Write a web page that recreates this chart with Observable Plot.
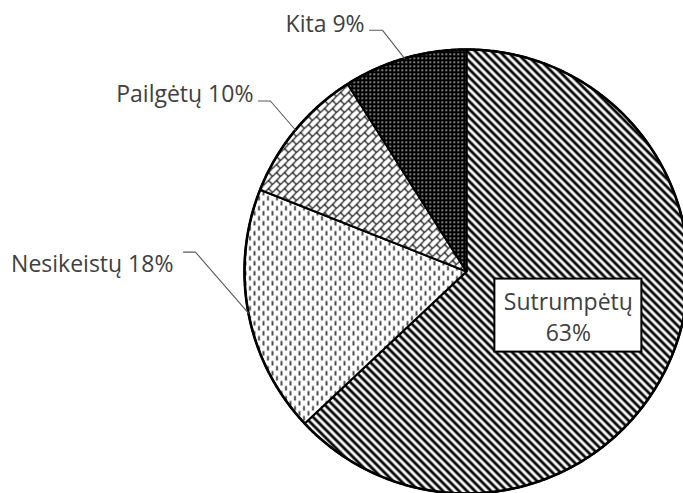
<!DOCTYPE html>
<html>
<head>
<meta charset="utf-8">
<script src="https://cdn.jsdelivr.net/npm/d3@7"></script>
<script src="https://cdn.jsdelivr.net/npm/@observablehq/plot@0.6"></script>
<style>
  html, body { margin: 0; padding: 0; background: #fff; }
  #chart svg { display: block; }
</style>
</head>
<body>
<div id="chart"></div>
<script>
// ---- data ----
const categories = ["Sutrumpėtų", "Nesikeistų", "Pailgėtų", "Kita"];
const values = [63, 18, 10, 9];

// ---- layout (pixels) ----
const W = 683, H = 493;
const CX = 466, CY = 271, R = 222;
const patternIds = ["pDiag", "pDash", "pBrick", "pDots"];
// outer label leader geometry: elbow offset from slice edge (px, y down), horizontal run, text gap, baseline offset
const outerLayout = {
  "Nesikeistų": {ex: -53, ey: -61, run: 12, gap: 10, base: 20},
  "Pailgėtų":   {ex: -25, ey: -29, run: 12, gap: 5,  base: 1},
  "Kita":       {ex: -22, ey: -28, run: 13, gap: 5,  base: 2}
};
const innerFrac = 0.5, boxW = 147, boxH = 73;
const fontFamily = "'Open Sans', sans-serif";
const fontSize = 23;
const textColor = "#404040";

// ---- geometry from data ----
const arcs = d3.pie().sort(null)(values);
const polar = (a, r) => ({x: r * Math.sin(a), y: r * Math.cos(a)});

const sliceMarks = arcs.map((a, i) => {
  const n = Math.max(2, Math.ceil((a.endAngle - a.startAngle) / (Math.PI / 360)));
  const pts = [{x: 0, y: 0}];
  for (let k = 0; k <= n; ++k) pts.push(polar(a.startAngle + (a.endAngle - a.startAngle) * k / n, R));
  pts.push({x: 0, y: 0});
  return Plot.line(pts, {x: "x", y: "y", fill: `url(#${patternIds[i]})`, stroke: "#000", strokeWidth: 2, strokeLinejoin: "miter"});
});

const circlePts = d3.range(0, 721).map(k => polar(k * Math.PI / 360, R));

const leaders = [], outerTexts = [];
arcs.forEach((a, i) => {
  const c = categories[i];
  const L = outerLayout[c];
  if (!L) return;
  const mid = (a.startAngle + a.endAngle) / 2;
  const e = polar(mid, R);
  const elbow = {x: e.x + L.ex, y: e.y - L.ey};
  const end = {x: elbow.x - L.run, y: elbow.y};
  leaders.push({z: c, ...e}, {z: c, ...elbow}, {z: c, ...end});
  outerTexts.push({x: end.x - L.gap, y: elbow.y - L.base, text: `${c} ${values[i]}%`});
});

const inner = arcs.filter((a, i) => !outerLayout[categories[i]]).map(a => {
  const i = a.index;
  const p = polar((a.startAngle + a.endAngle) / 2, R * innerFrac);
  return {...p, text: `${categories[i]}\n${values[i]}%`};
});

const svg = Plot.plot({
  width: W, height: H, margin: 0,
  style: {background: "#fff", overflow: "hidden"},
  x: {domain: [-CX, W - CX], range: [0, W], axis: null},
  y: {domain: [CY - H, CY], range: [H, 0], axis: null},
  marks: [
    ...sliceMarks,
    Plot.line(circlePts, {x: "x", y: "y", stroke: "#000", strokeWidth: 2.6}),
    Plot.line(leaders, {x: "x", y: "y", z: "z", stroke: "#595959", strokeWidth: 1.1, strokeLinejoin: "miter"}),
    Plot.text(outerTexts, {x: "x", y: "y", text: "text", textAnchor: "end", lineAnchor: "bottom",
      fontSize, fontFamily, fill: textColor}),
    Plot.rect(inner, {x1: d => d.x - boxW / 2, x2: d => d.x + boxW / 2, y1: d => d.y - boxH / 2, y2: d => d.y + boxH / 2,
      fill: "#fff", stroke: "#000", strokeWidth: 2}),
    Plot.text(inner, {x: "x", y: "y", text: "text", textAnchor: "middle", lineAnchor: "middle", lineHeight: 1.35,
      fontSize, fontFamily, fill: textColor})
  ]
});

// pattern definitions
const defs = d3.select(svg).insert("defs", ":first-child");
// wide downward diagonal
const p0 = defs.append("pattern").attr("id", "pDiag").attr("patternUnits", "userSpaceOnUse").attr("width", 8).attr("height", 8);
p0.append("rect").attr("width", 8).attr("height", 8).attr("fill", "#fff");
p0.append("path").attr("d", "M-2,-2L10,10M-2,6L2,10M6,-2L10,2").attr("stroke", "#000").attr("stroke-width", 2.8);
// dashed vertical
const p1 = defs.append("pattern").attr("id", "pDash").attr("patternUnits", "userSpaceOnUse").attr("width", 9).attr("height", 10);
p1.append("rect").attr("width", 9).attr("height", 10).attr("fill", "#fff");
p1.append("path").attr("d", "M2,0.5V5M6.5,5.5V10").attr("stroke", "#000").attr("stroke-width", 1.4);
// diagonal brick
const p2 = defs.append("pattern").attr("id", "pBrick").attr("patternUnits", "userSpaceOnUse").attr("width", 8).attr("height", 8);
p2.append("rect").attr("width", 8).attr("height", 8).attr("fill", "#fff");
p2.append("path").attr("d", "M-1,9L9,-1M4,4L8,8").attr("stroke", "#000").attr("stroke-width", 1.2);
// dark with white dots
const p3 = defs.append("pattern").attr("id", "pDots").attr("patternUnits", "userSpaceOnUse").attr("width", 4).attr("height", 4);
p3.append("rect").attr("width", 4).attr("height", 4).attr("fill", "#000");
p3.append("rect").attr("x", 1).attr("y", 1).attr("width", 1.4).attr("height", 1.4).attr("fill", "#fff");

document.getElementById("chart").appendChild(svg);
</script>
</body>
</html>
